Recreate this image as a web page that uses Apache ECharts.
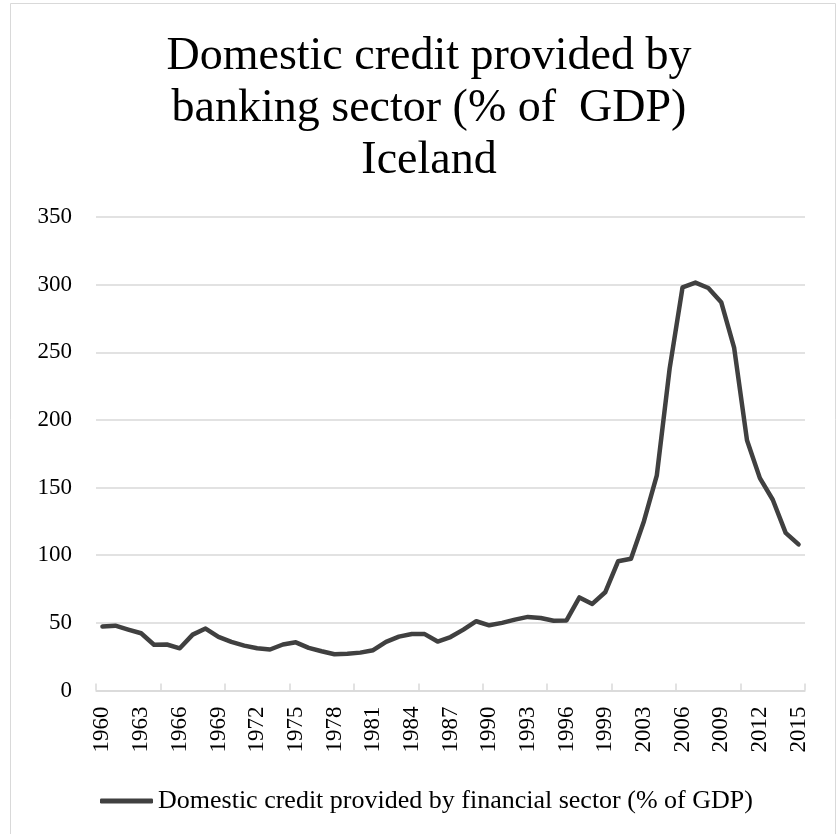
<!DOCTYPE html>
<html>
<head>
<meta charset="utf-8">
<title>Domestic credit provided by banking sector (% of GDP) Iceland</title>
<script src="https://cdn.jsdelivr.net/npm/echarts@6/dist/echarts.min.js"></script>
<style>
  html, body { margin: 0; padding: 0; background: #ffffff; }
  #chart { width: 839px; height: 834px; }
</style>
</head>
<body>
<div id="chart"></div>
<script>
// Years on the category axis (2002 has no observation)
const years = [
  '1960','1961','1962','1963','1964','1965','1966','1967','1968','1969',
  '1970','1971','1972','1973','1974','1975','1976','1977','1978','1979',
  '1980','1981','1982','1983','1984','1985','1986','1987','1988','1989',
  '1990','1991','1992','1993','1994','1995','1996','1997','1998','1999',
  '2000','2001','2003','2004','2005','2006','2007','2008','2009','2010',
  '2011','2012','2013','2014','2015'
];

// Domestic credit provided by financial sector, % of GDP
const creditPctGdp = [
  47.3, 47.9, 45.0, 42.3, 33.8, 34.0, 31.2, 41.3, 45.8, 39.6,
  35.9, 33.2, 31.2, 30.3, 34.0, 35.6, 31.5, 29.0, 26.8, 27.1,
  28.0, 29.8, 36.0, 39.8, 41.8, 41.7, 36.2, 39.5, 45.0, 51.2,
  48.2, 50.0, 52.4, 54.4, 53.6, 51.6, 51.8, 68.8, 64.0, 72.6,
  95.5, 97.4, 125.0, 158.8, 238.0, 298.0, 301.5, 297.5, 287.0, 253.5,
  185.0, 157.0, 141.0, 116.5, 108.0
];

const seriesName = 'Domestic credit provided by financial sector (% of GDP)';
const titleLines = ['Domestic credit provided by', 'banking sector (% of  GDP)', 'Iceland'];

const yMin = 0;
const yMax = 350;
const yStep = 50;

const serif = '"Liberation Serif", "DejaVu Serif", serif';
const gridColor = '#d9d9d9';
const lineColor = '#404040';

const chart = echarts.init(document.getElementById('chart'), null, { renderer: 'canvas' });

chart.setOption({
  backgroundColor: '#ffffff',
  animation: false,
  graphic: [{
    type: 'rect',
    shape: { x: 10.5, y: 3.5, width: 825, height: 840 },
    style: { fill: 'none', stroke: gridColor, lineWidth: 1 },
    silent: true
  }],
  title: {
    text: titleLines.join('\n'),
    left: 424,
    textAlign: 'center',
    top: 26,
    textStyle: {
      fontFamily: serif,
      fontWeight: 'normal',
      fontSize: 46,
      lineHeight: 52,
      color: '#000000'
    }
  },
  legend: {
    data: [seriesName],
    left: 95,
    top: 783,
    icon: 'roundRect',
    itemWidth: 53,
    itemHeight: 5,
    itemGap: 4,
    itemStyle: { color: lineColor },
    textStyle: { fontFamily: serif, fontSize: 26, color: '#000000' }
  },
  grid: {
    left: 96,
    right: 34,
    top: 217,
    bottom: 143.5,
    containLabel: false
  },
  xAxis: {
    type: 'category',
    data: years,
    boundaryGap: true,
    axisLine: { show: true, lineStyle: { color: gridColor, width: 1.5 } },
    axisTick: { show: true, inside: true, length: 7, interval: 4, lineStyle: { color: gridColor, width: 1.5 } },
    axisLabel: {
      interval: 2,
      rotate: 90,
      margin: 16,
      fontFamily: serif,
      fontSize: 23,
      color: '#000000'
    },
    splitLine: { show: false }
  },
  yAxis: {
    type: 'value',
    min: yMin,
    max: yMax,
    interval: yStep,
    axisLine: { show: false },
    axisTick: { show: false },
    axisLabel: {
      margin: 24,
      fontFamily: serif,
      fontSize: 23,
      color: '#000000'
    },
    splitLine: { show: true, lineStyle: { color: gridColor, width: 1.5 } }
  },
  series: [{
    name: seriesName,
    type: 'line',
    data: creditPctGdp,
    symbol: 'none',
    smooth: false,
    lineStyle: { color: lineColor, width: 4.5, cap: 'round', join: 'round' },
    itemStyle: { color: lineColor }
  }]
});
</script>
</body>
</html>
